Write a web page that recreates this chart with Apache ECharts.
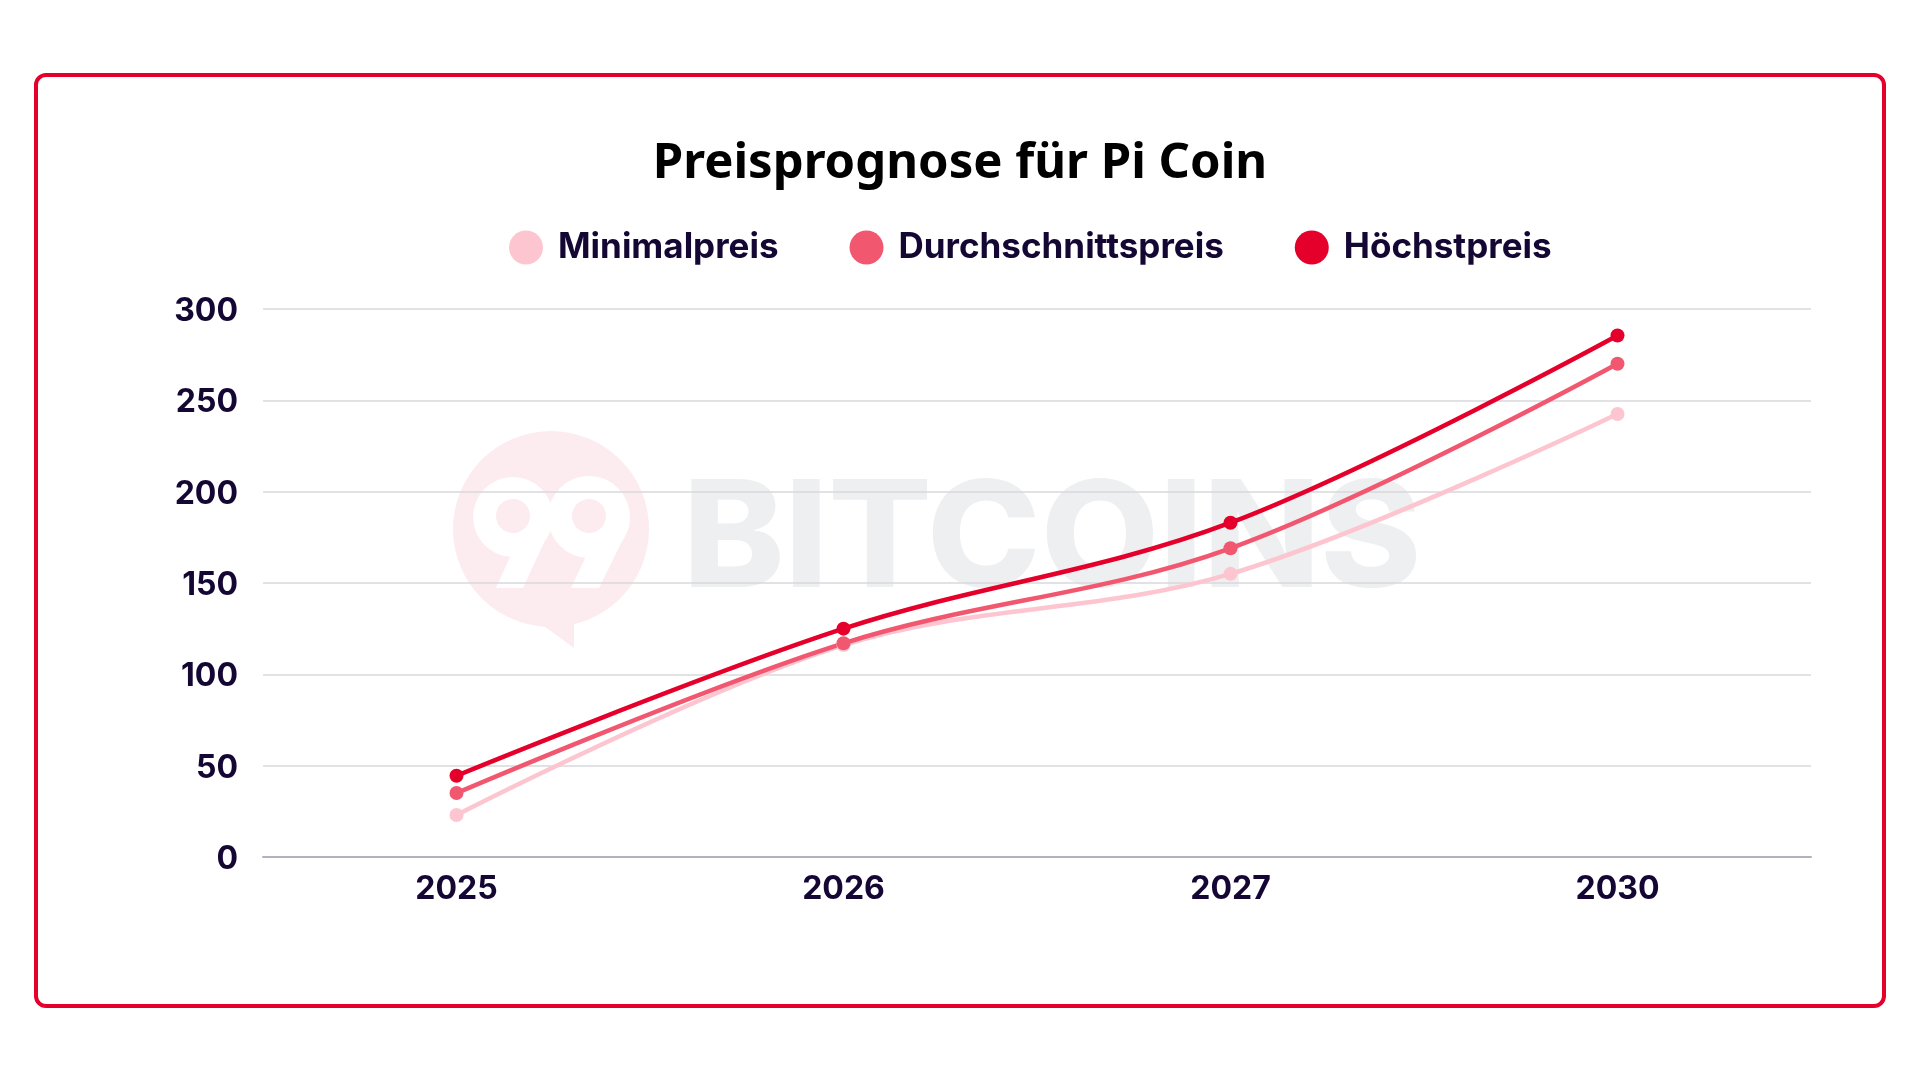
<!DOCTYPE html>
<html>
<head>
<meta charset="utf-8">
<title>Preisprognose für Pi Coin</title>
<script src="https://cdn.jsdelivr.net/npm/echarts@6/dist/echarts.min.js"></script>
<style>
  html, body { margin: 0; padding: 0; background: #fff; }
  #chart { width: 1920px; height: 1080px; }
</style>
</head>
<body>
<div id="chart"></div>
<script>
var years = ['2025', '2026', '2027', '2030'];
var minPrice = [23, 116, 155, 242.5];
var avgPrice = [35, 117, 169, 270];
var maxPrice = [44.5, 125, 183, 285.5];

var chart = echarts.init(document.getElementById('chart'));

var inkColor = '#150734';
var labelFont = 'Inter';

// Wasserzeichen und Rahmen
var wmPink = '#fcecef';
var watermark = [
  { type: 'rect', z: -5, shape: { x: 36, y: 75, width: 1848, height: 931, r: 10 },
    style: { fill: '#fff', stroke: '#e4002b', lineWidth: 4 } },
  { type: 'circle', z: -4, shape: { cx: 551, cy: 529, r: 98 }, style: { fill: wmPink } },
  { type: 'polygon', z: -4, shape: { points: [[529, 615], [574, 615], [574, 648]] }, style: { fill: wmPink } },
  { type: 'circle', z: -3, shape: { cx: 513, cy: 517, r: 40 }, style: { fill: '#fff' } },
  { type: 'polygon', z: -3, shape: { points: [[552, 525], [523, 588], [496, 588], [513, 550]] }, style: { fill: '#fff' } },
  { type: 'circle', z: -3, shape: { cx: 589, cy: 517, r: 41 }, style: { fill: '#fff' } },
  { type: 'polygon', z: -3, shape: { points: [[630, 525], [599, 588], [571, 588], [589, 550]] }, style: { fill: '#fff' } },
  { type: 'circle', z: -2, shape: { cx: 513, cy: 516, r: 17 }, style: { fill: wmPink } },
  { type: 'circle', z: -2, shape: { cx: 589, cy: 516, r: 17 }, style: { fill: wmPink } },
  { type: 'text', z: -4, x: 1052, y: 542, scaleX: 1.035,
    style: { text: 'BITCOINS', fill: '#eeeff1', font: '800 148px Inter', align: 'center', verticalAlign: 'middle' } }
];

var option = {
  animation: false,
  backgroundColor: '#fff',
  title: {
    text: 'Preisprognose für Pi Coin',
    left: 955,
    top: 135,
    textAlign: 'center',
    textStyle: { fontFamily: 'Noto Sans', fontWeight: 700, fontSize: 49, color: '#000' }
  },
  legend: {
    left: 504,
    top: 225,
    itemWidth: 34,
    itemHeight: 34,
    itemGap: 71,
    icon: 'circle',
    textStyle: { fontFamily: labelFont, fontWeight: 700, fontSize: 35, color: inkColor, padding: [0, 0, 0, 10] },
    data: ['Minimalpreis', 'Durchschnittspreis', 'Höchstpreis']
  },
  grid: { left: 263, right: 109, top: 309, height: 548 },
  xAxis: {
    type: 'category',
    data: years,
    axisTick: { show: false },
    axisLine: { lineStyle: { color: '#b3b1bf', width: 2 } },
    axisLabel: { margin: 16, fontFamily: labelFont, fontWeight: 700, fontSize: 32, color: inkColor }
  },
  yAxis: {
    type: 'value',
    min: 0,
    max: 300,
    interval: 50,
    axisLine: { show: false },
    axisTick: { show: false },
    splitLine: { lineStyle: { color: '#d8d8dd', width: 1.5 } },
    axisLabel: { margin: 25, verticalAlign: 'top', lineHeight: 5, fontFamily: labelFont, fontWeight: 700, fontSize: 32, color: inkColor }
  },
  graphic: watermark,
  series: [
    { name: 'Minimalpreis', type: 'line', data: minPrice, smooth: 0.35, symbol: 'circle', symbolSize: 14,
      itemStyle: { color: '#fdc5cf' }, lineStyle: { color: '#fdc5cf', width: 4.5 } },
    { name: 'Durchschnittspreis', type: 'line', data: avgPrice, smooth: 0.35, symbol: 'circle', symbolSize: 14,
      itemStyle: { color: '#f25770' }, lineStyle: { color: '#f25770', width: 4.5 } },
    { name: 'Höchstpreis', type: 'line', data: maxPrice, smooth: 0.35, symbol: 'circle', symbolSize: 14,
      itemStyle: { color: '#e4002b' }, lineStyle: { color: '#e4002b', width: 4.5 } }
  ]
};

chart.setOption(option);
</script>
</body>
</html>
